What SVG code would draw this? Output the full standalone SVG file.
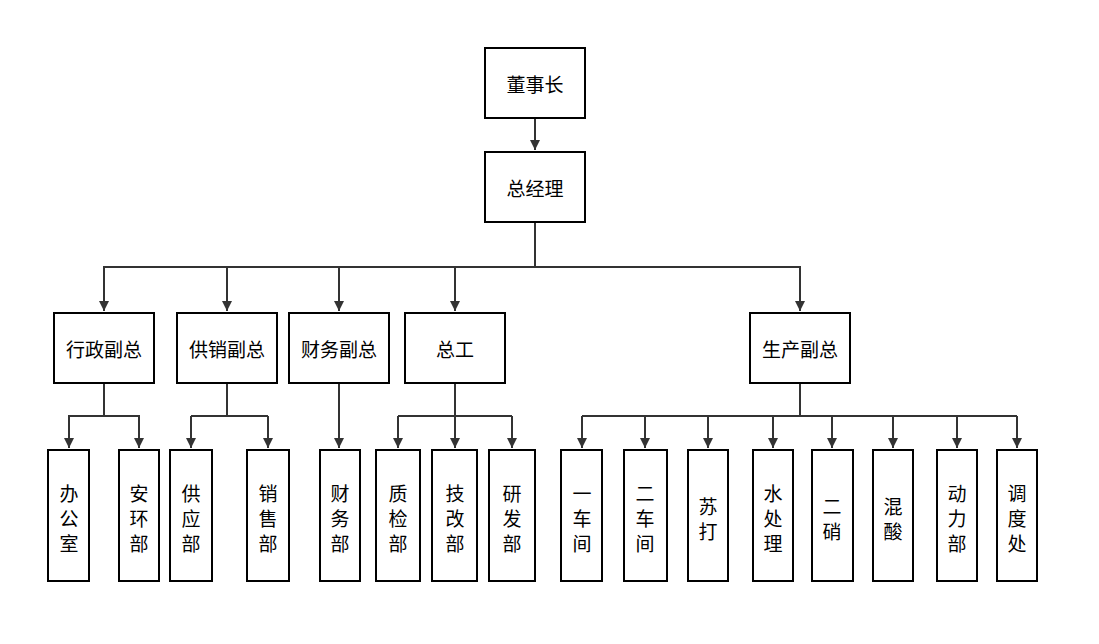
<svg xmlns="http://www.w3.org/2000/svg" width="1099" height="644" viewBox="0 0 1099 644">
<style>
rect{fill:#fff;stroke:#000;stroke-width:2}
text{font-family:"Noto Sans CJK SC",sans-serif;font-size:19px;fill:#000;text-anchor:middle;dominant-baseline:central}
.c path{fill:none;stroke:#333;stroke-width:2}
</style>
<defs><marker id="a" viewBox="0 0 10 10" refX="10" refY="5" markerWidth="5" markerHeight="5" orient="auto"><path d="M0,0L10,5L0,10z" fill="#333"/></marker></defs>
<rect width="1099" height="644" style="stroke:none"/>
<g class="c">
<path d="M535,118V150" marker-end="url(#a)"/>
<path d="M535,222V267H104V311M227,267V311M339,267V311M455,267V311M535,267H800V311" />
<path d="M104,267V311" marker-end="url(#a)"/><path d="M227,267V311" marker-end="url(#a)"/><path d="M339,267V311" marker-end="url(#a)"/><path d="M455,267V311" marker-end="url(#a)"/><path d="M800,267V311" marker-end="url(#a)"/>
<path d="M104,383V416H69V448M104,416H139V448" /><path d="M69,416V448" marker-end="url(#a)"/><path d="M139,416V448" marker-end="url(#a)"/>
<path d="M227,383V416H191M227,416H268"/><path d="M191,416V448" marker-end="url(#a)"/><path d="M268,416V448" marker-end="url(#a)"/>
<path d="M339,383V448" marker-end="url(#a)"/>
<path d="M455,383V416H398M455,416H512"/><path d="M398,416V448" marker-end="url(#a)"/><path d="M455,416V448" marker-end="url(#a)"/><path d="M512,416V448" marker-end="url(#a)"/>
<path d="M800,383V416H582M800,416H1017"/>
<path d="M582,416V448" marker-end="url(#a)"/><path d="M645,416V448" marker-end="url(#a)"/><path d="M708,416V448" marker-end="url(#a)"/><path d="M773,416V448" marker-end="url(#a)"/><path d="M832,416V448" marker-end="url(#a)"/><path d="M893,416V448" marker-end="url(#a)"/><path d="M957,416V448" marker-end="url(#a)"/><path d="M1017,416V448" marker-end="url(#a)"/>
</g>
<g id="n1"><rect x="485" y="48" width="100" height="70"/><text x="535" y="83">董事长</text></g>
<g id="n2"><rect x="485" y="152" width="100" height="70"/><text x="535" y="187">总经理</text></g>
<g id="n3"><rect x="54" y="313" width="100" height="70"/><text x="104" y="348">行政副总</text></g>
<g id="n4"><rect x="177" y="313" width="100" height="70"/><text x="227" y="348">供销副总</text></g>
<g id="n5"><rect x="289" y="313" width="100" height="70"/><text x="339" y="348">财务副总</text></g>
<g id="n6"><rect x="405" y="313" width="100" height="70"/><text x="455" y="348">总工</text></g>
<g id="n7"><rect x="750" y="313" width="100" height="70"/><text x="800" y="348">生产副总</text></g>
<g id="b1"><rect x="48" y="450" width="41" height="131"/><text x="69" y="492">办</text><text x="69" y="517">公</text><text x="69" y="542">室</text></g>
<g id="b2"><rect x="119" y="450" width="40" height="131"/><text x="139" y="492">安</text><text x="139" y="517">环</text><text x="139" y="542">部</text></g>
<g id="b3"><rect x="170" y="450" width="42" height="131"/><text x="191" y="492">供</text><text x="191" y="517">应</text><text x="191" y="542">部</text></g>
<g id="b4"><rect x="247" y="450" width="42" height="131"/><text x="268" y="492">销</text><text x="268" y="517">售</text><text x="268" y="542">部</text></g>
<g id="b5"><rect x="320" y="450" width="40" height="131"/><text x="340" y="492">财</text><text x="340" y="517">务</text><text x="340" y="542">部</text></g>
<g id="b6"><rect x="376" y="450" width="44" height="131"/><text x="398" y="492">质</text><text x="398" y="517">检</text><text x="398" y="542">部</text></g>
<g id="b7"><rect x="432" y="450" width="45" height="131"/><text x="455" y="492">技</text><text x="455" y="517">改</text><text x="455" y="542">部</text></g>
<g id="b8"><rect x="489" y="450" width="46" height="131"/><text x="512" y="492">研</text><text x="512" y="517">发</text><text x="512" y="542">部</text></g>
<g id="b9"><rect x="561" y="450" width="41" height="131"/><text x="582" y="492">一</text><text x="582" y="517">车</text><text x="582" y="542">间</text></g>
<g id="b10"><rect x="624" y="450" width="43" height="131"/><text x="645" y="492">二</text><text x="645" y="517">车</text><text x="645" y="542">间</text></g>
<g id="b11"><rect x="688" y="450" width="40" height="131"/><text x="708" y="505">苏</text><text x="708" y="530">打</text></g>
<g id="b12"><rect x="753" y="450" width="40" height="131"/><text x="773" y="492">水</text><text x="773" y="517">处</text><text x="773" y="542">理</text></g>
<g id="b13"><rect x="812" y="450" width="41" height="131"/><text x="832" y="505">二</text><text x="832" y="530">硝</text></g>
<g id="b14"><rect x="873" y="450" width="40" height="131"/><text x="893" y="505">混</text><text x="893" y="530">酸</text></g>
<g id="b15"><rect x="937" y="450" width="40" height="131"/><text x="957" y="492">动</text><text x="957" y="517">力</text><text x="957" y="542">部</text></g>
<g id="b16"><rect x="997" y="450" width="40" height="131"/><text x="1017" y="492">调</text><text x="1017" y="517">度</text><text x="1017" y="542">处</text></g>
</svg>
